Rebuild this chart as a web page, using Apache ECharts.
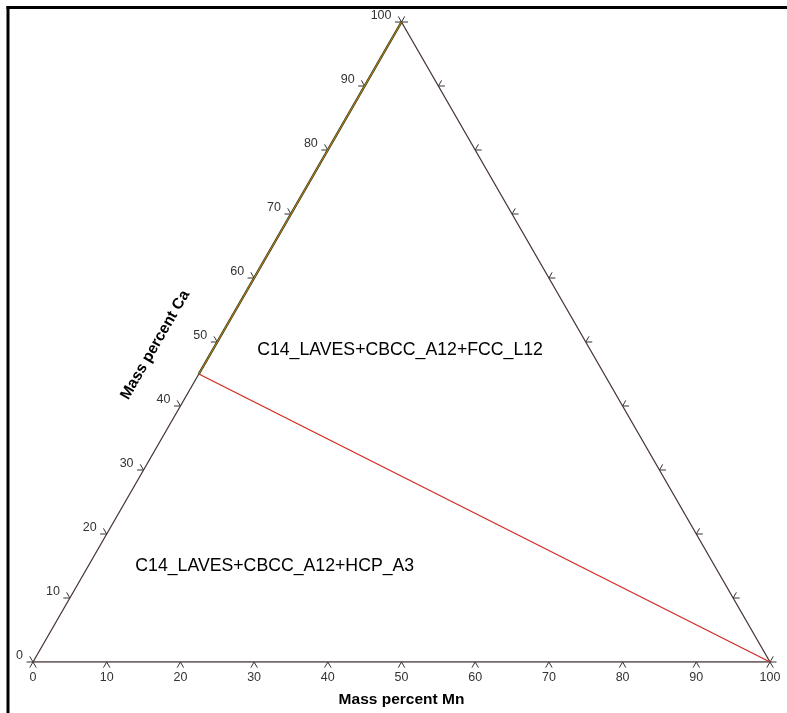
<!DOCTYPE html>
<html>
<head>
<meta charset="utf-8">
<script src="https://cdn.jsdelivr.net/npm/echarts@6/dist/echarts.min.js"></script>
<style>html,body{margin:0;padding:0;background:#fff;}#c{width:787px;height:713px;}</style>
</head>
<body>
<div id="c"></div>
<script>
// ---- data (ternary: Mn, Ca; third component is the remainder) ----
const tickValues = [0, 10, 20, 30, 40, 50, 60, 70, 80, 90, 100];
const caLabels = ['0','10','20','30','40','50','60','70','80','90','100'];
const mnLabels = ['0','10','20','30','40','50','60','70','80','90','100'];
// phase boundary (red tie line)
const boundaryMn = [0, 100];
const boundaryCa = [45, 0];
// boundary running along Ca-Mn=0 edge
const edgeBoundaryMn = [0, 0];
const edgeBoundaryCa = [45, 100];
// phase region labels
const regionNames = ['C14_LAVES+CBCC_A12+FCC_L12', 'C14_LAVES+CBCC_A12+HCP_A3'];
const regionMn = [25.4, 25.3];
const regionCa = [48.8, 15];

function tern(mn, ca) { return [mn + ca / 2, ca]; }

const triangle = [tern(0,0), tern(100,0), tern(0,100), tern(0,0)];
const boundary = boundaryMn.map((m, i) => tern(m, boundaryCa[i]));
const edgeBoundary = edgeBoundaryMn.map((m, i) => tern(m, edgeBoundaryCa[i]));

// tick data: [axisIndex, value]
const tickData = [];
tickValues.forEach(v => { tickData.push([0, v]); tickData.push([1, v]); tickData.push([2, v]); });

const FONT = 'Liberation Sans, Arial, sans-serif';
const L = 6.5;
const s3 = Math.sqrt(3) / 2;

const chart = echarts.init(document.getElementById('c'), null, {renderer: 'canvas'});
chart.setOption({
  animation: false,
  backgroundColor: '#ffffff',
  grid: {left: 33, right: 17, top: 22, bottom: 51},
  xAxis: {type: 'value', min: 0, max: 100, show: false},
  yAxis: {type: 'value', min: 0, max: 100, show: false},
  graphic: [
    {type: 'line', shape: {x1: 8, y1: 6, x2: 8, y2: 713}, style: {stroke: '#000', lineWidth: 3}},
    {type: 'line', shape: {x1: 6.5, y1: 7.5, x2: 787, y2: 7.5}, style: {stroke: '#000', lineWidth: 3}}
  ],
  series: [
    {
      type: 'line', data: triangle, symbol: 'none', silent: true,
      lineStyle: {color: '#4a3838', width: 1.3}
    },
    {
      type: 'line', data: edgeBoundary, symbol: 'none', silent: true,
      lineStyle: {color: '#2f4a1c', width: 2.4}
    },
    {
      type: 'line', data: edgeBoundary, symbol: 'none', silent: true,
      lineStyle: {color: '#d4761a', width: 1}
    },
    {
      type: 'line', data: boundary, symbol: 'none', silent: true,
      lineStyle: {color: '#d42a24', width: 1.3}
    },
    {
      type: 'custom', silent: true,
      data: tickData,
      renderItem: function (params, api) {
        const axis = api.value(0), v = api.value(1);
        let p, legs, label = null;
        if (axis === 0) { // bottom: Mn axis
          p = api.coord(tern(v, 0));
          legs = [[-L/2, L*s3], [L/2, L*s3]];
          label = {text: mnLabels[tickValues.indexOf(v)], x: p[0], y: p[1] + 16, align: 'center', verticalAlign: 'middle'};
        } else if (axis === 1) { // left: Ca axis
          p = api.coord(tern(0, v));
          legs = [[-L, 0], [-L/2, -L*s3]];
          label = {text: caLabels[tickValues.indexOf(v)], x: p[0] - 10, y: p[1] - 6, align: 'right', verticalAlign: 'middle'};
        } else { // right edge
          p = api.coord(tern(100 - v, v));
          legs = [[L, 0], [L/2, -L*s3]];
        }
        const children = legs.map(d => ({
          type: 'line',
          shape: {x1: p[0], y1: p[1], x2: p[0] + d[0], y2: p[1] + d[1]},
          style: {stroke: '#333', lineWidth: 1}
        }));
        if (label) {
          children.push({
            type: 'text',
            style: {text: label.text, x: label.x, y: label.y, align: label.align, verticalAlign: label.verticalAlign,
                    font: '12.5px ' + FONT, fill: '#333'}
          });
        }
        return {type: 'group', children: children};
      }
    },
    {
      type: 'custom', silent: true,
      data: regionNames.map((n, i) => tern(regionMn[i], regionCa[i])),
      renderItem: function (params, api) {
        const p = api.coord([api.value(0), api.value(1)]);
        return {
          type: 'text',
          style: {text: regionNames[params.dataIndex], x: p[0], y: p[1], align: 'center', verticalAlign: 'middle',
                  font: '17.7px ' + FONT, fill: '#000'}
        };
      }
    },
    {
      type: 'custom', silent: true,
      data: [[0, 50], [1, 50]],
      renderItem: function (params, api) {
        const which = api.value(0);
        if (which === 0) {
          const p = api.coord(tern(50, 0));
          return {type: 'text', style: {text: 'Mass percent Mn', x: p[0], y: p[1] + 38, align: 'center', verticalAlign: 'middle',
                  font: 'bold 15.5px ' + FONT, fill: '#000'}};
        } else {
          const p = api.coord(tern(0, 50));
          return {type: 'text', x: p[0] - 62, y: p[1] + 3, rotation: Math.PI / 3,
                  style: {text: 'Mass percent Ca', x: 0, y: 0, align: 'center', verticalAlign: 'middle',
                  font: 'bold 15.5px ' + FONT, fill: '#000'}};
        }
      }
    }
  ]
});
</script>
</body>
</html>
